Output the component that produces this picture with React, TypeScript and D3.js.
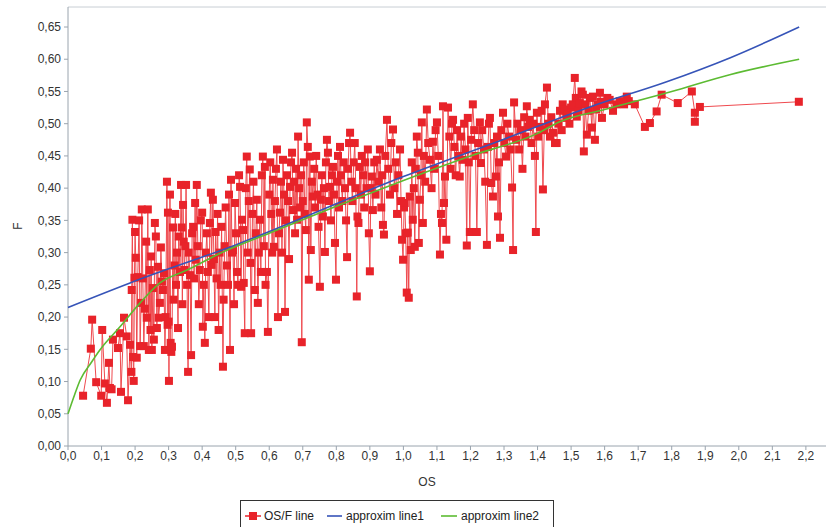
import React from "react";
import * as d3 from "d3";

// OS/F measured series [OS, F]
const osF: [number, number][] = [
  [0.045,0.078],[0.068,0.151],[0.072,0.196],[0.084,0.099],[0.099,0.078],[0.102,0.18],[0.11,0.097],[0.116,0.067],[0.122,0.129],[0.125,0.09],[0.13,0.088],[0.134,0.165],[0.149,0.152],[0.155,0.175],[0.158,0.084],[0.167,0.199],[0.175,0.17],[0.179,0.071],[0.185,0.157],
  [0.189,0.115],[0.19,0.242],[0.192,0.351],[0.194,0.138],[0.196,0.101],[0.198,0.261],[0.2,0.332],[0.202,0.292],[0.205,0.137],[0.208,0.262],[0.212,0.35],[0.215,0.155],[0.218,0.222],[0.22,0.367],[0.223,0.26],[0.226,0.155],[0.229,0.213],[0.233,0.317],[0.235,0.199],[0.238,0.367],[0.241,0.149],[0.244,0.273],[0.246,0.18],[0.248,0.294],[0.25,0.149],[0.253,0.245],[0.256,0.165],[0.259,0.346],[0.262,0.325],[0.265,0.183],[0.268,0.278],[0.27,0.199],[0.274,0.222],[0.277,0.308],[0.28,0.255],[0.283,0.242],[0.286,0.268],[0.289,0.149],[0.291,0.2],[0.295,0.41],[0.297,0.188],[0.298,0.362],[0.3,0.193],[0.301,0.101],[0.304,0.39],[0.306,0.16],[0.308,0.146],[0.31,0.154],[0.313,0.339],[0.315,0.227],[0.318,0.28],[0.32,0.36],[0.322,0.25],[0.325,0.3],[0.328,0.183],[0.33,0.325],[0.334,0.27],
  [0.337,0.405],[0.339,0.339],[0.341,0.22],[0.343,0.374],[0.345,0.317],[0.347,0.273],[0.35,0.31],[0.352,0.405],[0.355,0.25],[0.358,0.115],[0.36,0.3],[0.364,0.265],[0.367,0.141],[0.37,0.33],[0.373,0.34],[0.376,0.26],[0.379,0.377],[0.381,0.289],[0.384,0.405],[0.387,0.31],[0.39,0.22],[0.393,0.273],[0.396,0.35],[0.4,0.362],[0.402,0.185],[0.405,0.25],[0.408,0.16],[0.411,0.3],[0.414,0.33],[0.417,0.27],[0.42,0.2],[0.423,0.346],[0.426,0.393],[0.428,0.281],[0.432,0.382],[0.435,0.29],[0.438,0.2],[0.44,0.332],[0.443,0.26],[0.446,0.36],[0.449,0.18],[0.452,0.3],[0.455,0.25],[0.458,0.34],[0.462,0.123],[0.464,0.227],[0.467,0.31],[0.47,0.37],[0.474,0.28],[0.477,0.25],[0.48,0.39],[0.483,0.149],[0.486,0.413],[0.489,0.3],[0.492,0.304],[0.495,0.22],[0.498,0.377],
  [0.501,0.33],[0.504,0.27],[0.507,0.25],[0.51,0.42],[0.513,0.402],[0.516,0.247],[0.519,0.351],[0.522,0.335],[0.524,0.253],[0.527,0.175],[0.53,0.4],[0.533,0.449],[0.536,0.3],[0.539,0.38],[0.542,0.429],[0.544,0.284],[0.546,0.175],[0.55,0.36],[0.553,0.41],[0.557,0.242],[0.56,0.33],[0.563,0.382],[0.566,0.222],[0.569,0.3],[0.572,0.351],[0.575,0.27],[0.578,0.42],[0.581,0.449],[0.584,0.31],[0.587,0.433],[0.589,0.25],[0.593,0.27],[0.596,0.177],[0.6,0.39],[0.603,0.44],[0.606,0.36],[0.609,0.3],[0.611,0.413],[0.614,0.309],[0.617,0.38],[0.62,0.43],[0.623,0.46],[0.626,0.2],[0.629,0.33],[0.632,0.362],[0.635,0.41],[0.638,0.3],[0.641,0.444],[0.644,0.39],[0.647,0.208],[0.65,0.35],[0.653,0.42],[0.656,0.38],[0.659,0.29],[0.662,0.402],[0.665,0.44],[0.668,0.455],[0.671,0.366],[0.674,0.41],[0.677,0.33],[0.68,0.43],[0.683,0.351],[0.686,0.48],[0.689,0.4],[0.692,0.37],[0.695,0.42],[0.697,0.161],
  [0.7,0.38],[0.703,0.44],[0.706,0.36],[0.709,0.335],[0.712,0.502],[0.715,0.464],[0.718,0.258],[0.721,0.449],[0.724,0.304],[0.727,0.41],[0.73,0.387],[0.734,0.43],[0.737,0.37],[0.74,0.45],[0.744,0.39],[0.747,0.34],[0.751,0.247],[0.754,0.382],[0.757,0.42],[0.76,0.356],[0.763,0.4],[0.766,0.301],[0.769,0.44],[0.772,0.475],[0.775,0.455],[0.778,0.38],[0.781,0.402],[0.784,0.35],[0.787,0.42],[0.79,0.433],[0.793,0.39],[0.796,0.315],[0.799,0.258],[0.802,0.41],[0.805,0.45],[0.808,0.37],[0.811,0.464],[0.814,0.42],[0.818,0.38],[0.822,0.44],[0.826,0.4],[0.829,0.35],[0.832,0.293],[0.835,0.43],[0.838,0.47],[0.841,0.486],[0.845,0.41],[0.848,0.38],[0.852,0.44],[0.855,0.47],[0.858,0.4],[0.861,0.232],[0.863,0.356],[0.866,0.346],[0.87,0.433],[0.873,0.39],[0.876,0.45],[0.88,0.42],[0.883,0.37],[0.886,0.44],[0.89,0.4],[0.894,0.46],[0.897,0.33],[0.9,0.271],[0.903,0.4],[0.906,0.418],[0.909,0.366],[0.913,0.44],[0.917,0.39],[0.921,0.444],[0.925,0.41],[0.93,0.46],[0.934,0.37],[0.937,0.42],[0.939,0.343],[0.942,0.328],[0.946,0.45],[0.951,0.506],[0.955,0.43],[0.96,0.39],[0.964,0.47],[0.969,0.491],[0.973,0.4],[0.977,0.44],[0.981,0.36],[0.985,0.42],[0.99,0.46],[0.993,0.38],[0.996,0.32],[0.999,0.289],
  [1.002,0.37],[1.004,0.377],[1.007,0.33],[1.01,0.238],[1.013,0.331],[1.016,0.23],[1.019,0.387],[1.022,0.304],[1.025,0.44],[1.028,0.351],[1.031,0.4],[1.034,0.309],[1.037,0.43],[1.04,0.48],[1.043,0.455],[1.046,0.315],[1.049,0.382],[1.052,0.42],[1.055,0.502],[1.058,0.346],[1.061,0.45],[1.065,0.41],[1.07,0.522],[1.074,0.47],[1.079,0.444],[1.084,0.4],[1.088,0.472],[1.092,0.43],[1.096,0.49],[1.1,0.502],[1.104,0.45],[1.109,0.297],[1.112,0.36],[1.115,0.346],[1.118,0.527],[1.121,0.377],[1.124,0.418],[1.128,0.32],[1.133,0.525],[1.137,0.48],[1.141,0.43],[1.145,0.5],[1.148,0.506],[1.152,0.464],[1.156,0.42],[1.16,0.49],[1.164,0.45],[1.168,0.418],[1.172,0.48],[1.177,0.444],[1.181,0.5],[1.185,0.46],[1.189,0.311],[1.192,0.509],[1.195,0.44],[1.198,0.332],
  [1.202,0.475],[1.207,0.53],[1.211,0.49],[1.215,0.45],[1.219,0.332],[1.223,0.47],[1.228,0.502],[1.231,0.439],[1.235,0.49],[1.24,0.46],[1.244,0.41],[1.249,0.312],[1.252,0.464],[1.255,0.5],[1.258,0.509],[1.262,0.408],[1.267,0.387],[1.271,0.47],[1.276,0.418],[1.279,0.48],[1.282,0.356],[1.285,0.44],[1.288,0.323],[1.292,0.49],[1.297,0.517],[1.301,0.47],[1.306,0.449],[1.31,0.5],[1.315,0.48],[1.32,0.46],[1.324,0.401],[1.327,0.304],[1.33,0.533],[1.336,0.475],[1.34,0.5],[1.345,0.46],[1.35,0.49],[1.355,0.43],[1.36,0.51],[1.364,0.48],[1.368,0.527],[1.372,0.495],[1.377,0.506],[1.382,0.47],[1.387,0.5],[1.392,0.45],[1.395,0.332],[1.398,0.517],
  [1.402,0.48],[1.407,0.495],[1.412,0.52],[1.416,0.398],[1.42,0.49],[1.422,0.53],[1.428,0.556],[1.432,0.5],[1.437,0.48],[1.441,0.51],[1.446,0.486],[1.452,0.47],[1.457,0.47],[1.462,0.5],[1.467,0.52],[1.472,0.49],[1.475,0.53],[1.481,0.522],[1.487,0.509],[1.49,0.514],[1.495,0.5],[1.5,0.525],[1.505,0.53],[1.511,0.571],[1.514,0.54],[1.517,0.511],[1.522,0.52],[1.526,0.532],[1.531,0.55],[1.535,0.545],[1.538,0.457],[1.542,0.53],[1.547,0.483],[1.552,0.52],[1.556,0.54],[1.562,0.494],[1.565,0.542],[1.571,0.475],[1.575,0.522],[1.58,0.53],[1.586,0.548],[1.589,0.534],[1.592,0.509],
  [1.6,0.53],[1.608,0.54],[1.615,0.537],[1.625,0.52],[1.635,0.53],[1.645,0.535],[1.651,0.532],[1.658,0.53],[1.666,0.542],[1.672,0.535],[1.69,0.53],[1.72,0.495],[1.735,0.501],[1.755,0.519],[1.77,0.545],[1.818,0.532],[1.86,0.55],[1.869,0.517],[1.869,0.503],[1.884,0.526],[2.179,0.534],
];

// approximation line 1 [OS, F]
const approx1: [number, number][] = [
  [0, 0.215],[0.185, 0.253],[0.5, 0.312],[1.0, 0.418],[1.3, 0.476],[1.556, 0.526],[1.785, 0.565],[1.973, 0.602],[2.18, 0.65],
];

// approximation line 2 [OS, F]
const approx2: [number, number][] = [
  [0, 0.05],[0.02, 0.08],[0.036, 0.102],[0.07, 0.13],[0.095, 0.149],[0.155, 0.185],[0.215, 0.222],[0.274, 0.253],[0.355, 0.273],[0.45, 0.298],[0.6, 0.33],[0.8, 0.372],[1.0, 0.412],[1.2, 0.45],[1.4, 0.485],[1.466, 0.503],[1.6, 0.522],[1.8, 0.55],[1.973, 0.576],[2.18, 0.6],
];

const xTicks = d3.range(0, 23).map((i) => i / 10);
const yTicks = d3.range(0, 14).map((i) => i * 0.05);
const seriesNames = ["OS/F line", "approxim line1", "approxim line2"];
const seriesColors = ["#e8232a", "#3654b8", "#5cbb32"];

const fmt = (v: number, d: number) => v.toFixed(d).replace(".", ",");

export default function App() {
  const W = 826, H = 527;
  const x = d3.scaleLinear().domain([0, 2.26]).range([68, 826]);
  const y = d3.scaleLinear().domain([0, 0.65]).range([446, 27]);
  const sorted = [...osF].sort((a, b) => a[0] - b[0]);
  const line = d3.line<[number, number]>().x((d) => x(d[0])).y((d) => y(d[1]));
  const smooth = d3.line<[number, number]>().x((d) => x(d[0])).y((d) => y(d[1])).curve(d3.curveMonotoneX);
  const font = "'Liberation Sans', Arial, sans-serif";
  const axisColor = "#9aa4ae";
  const ms = 8;
  return (
    <svg width={W} height={H} style={{ position: "absolute", left: 0, top: 0, background: "#fff" }} fontFamily={font}>
      <line x1={68} x2={826} y1={7} y2={7} stroke="#c8ced4" />
      {/* axes */}
      <line x1={68} x2={68} y1={7} y2={446} stroke={axisColor} />
      <line x1={68} x2={826} y1={446} y2={446} stroke={axisColor} />
      {yTicks.map((t) => (
        <g key={"y" + t}>
          <line x1={64} x2={68} y1={y(t)} y2={y(t)} stroke={axisColor} />
          <text x={61} y={y(t)} dy="0.35em" textAnchor="end" fontSize={12} fill="#333">{fmt(t, 2)}</text>
        </g>
      ))}
      {xTicks.map((t) => (
        <g key={"x" + t}>
          <line x1={x(t)} x2={x(t)} y1={446} y2={450} stroke={axisColor} />
          <text x={x(t)} y={460} textAnchor="middle" fontSize={12} fill="#333">{fmt(t, 1)}</text>
        </g>
      ))}
      <text x={427} y={486} textAnchor="middle" fontSize={12} fill="#333">OS</text>
      <text transform={`translate(22,226) rotate(-90)`} textAnchor="middle" fontSize={12} fill="#333">F</text>
      {/* data */}
      <path d={line(sorted) || ""} fill="none" stroke="#ef4a4f" strokeWidth={1} />
      {sorted.map((d, i) => (
        <rect key={i} x={x(d[0]) - ms / 2} y={y(d[1]) - ms / 2} width={ms} height={ms} fill={seriesColors[0]} />
      ))}
      <path d={smooth(approx1) || ""} fill="none" stroke={seriesColors[1]} strokeWidth={1.6} />
      <path d={smooth(approx2) || ""} fill="none" stroke={seriesColors[2]} strokeWidth={1.6} />
      {/* legend */}
      <rect x={240.5} y={500.5} width={313} height={32} fill="#fff" stroke="#333" />
      <line x1={245} x2={261} y1={516} y2={516} stroke={seriesColors[0]} strokeWidth={1.5} />
      <rect x={249} y={512} width={8} height={8} fill={seriesColors[0]} />
      <text x={264} y={520} fontSize={12} fill="#222">{seriesNames[0]}</text>
      <line x1={327} x2={342} y1={516} y2={516} stroke={seriesColors[1]} strokeWidth={1.6} />
      <text x={346} y={520} fontSize={12} fill="#222">{seriesNames[1]}</text>
      <line x1={441} x2={457} y1={516} y2={516} stroke={seriesColors[2]} strokeWidth={1.6} />
      <text x={461} y={520} fontSize={12} fill="#222">{seriesNames[2]}</text>
    </svg>
  );
}
